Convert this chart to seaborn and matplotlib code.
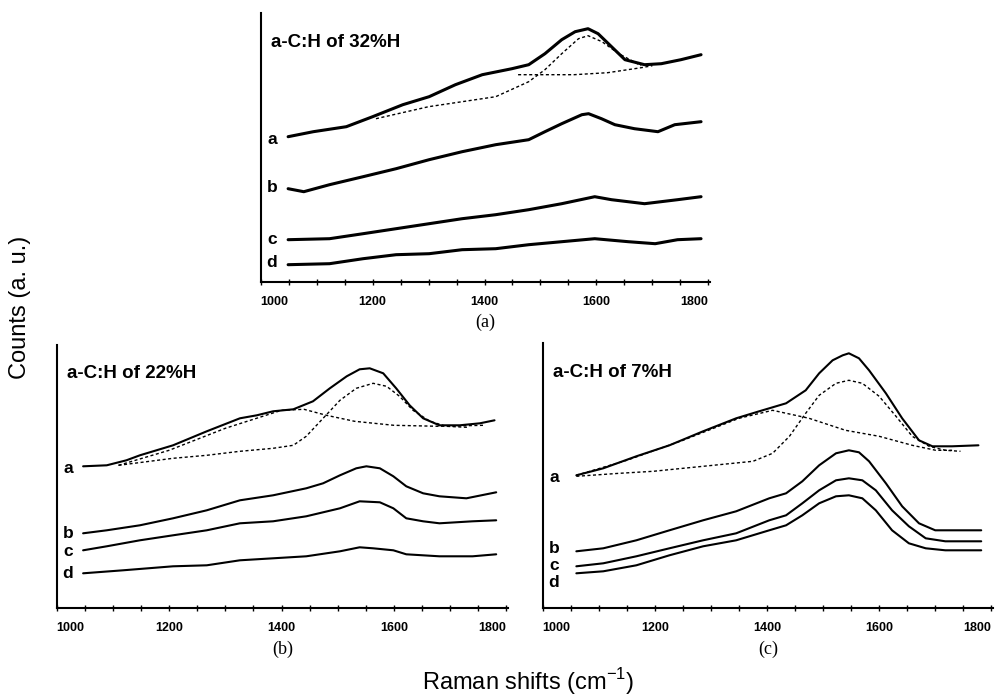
import numpy as np
import pandas as pd
import matplotlib
matplotlib.use("Agg")
import matplotlib.pyplot as plt
import seaborn as sns

sns.set_theme(style="white")
plt.rcParams["font.family"] = ["Liberation Sans", "DejaVu Sans"]
plt.rcParams["text.color"] = "black"
plt.rcParams["xtick.color"] = "black"
plt.rcParams["xtick.labelcolor"] = "black"

# ---- a-C:H of 32%H (panel a) ----
a32_x = [1049, 1094, 1153, 1200, 1254, 1301, 1348, 1396, 1449, 1479, 1508, 1538, 1562, 1585, 1603, 1627, 1651, 1686, 1716, 1751, 1787]
a32_y = [145, 150, 155, 165, 177, 185, 197, 207, 213, 217, 228, 242, 250, 253, 248, 235, 222, 217, 218, 222, 227]
b32_x = [1049, 1077, 1123, 1183, 1242, 1301, 1360, 1420, 1479, 1508, 1538, 1574, 1586, 1609, 1633, 1668, 1710, 1740, 1787]
b32_y = [93, 90, 97, 105, 113, 122, 130, 137, 142, 150, 158, 167, 168, 163, 157, 153, 150, 157, 160]
c32_x = [1049, 1123, 1183, 1242, 1301, 1360, 1420, 1479, 1538, 1597, 1627, 1686, 1745, 1787]
c32_y = [42, 43, 48, 53, 58, 63, 67, 72, 78, 85, 82, 78, 82, 85]
d32_x = [1049, 1123, 1183, 1242, 1301, 1360, 1420, 1479, 1538, 1597, 1657, 1705, 1745, 1787]
d32_y = [17, 18, 23, 27, 28, 32, 33, 37, 40, 43, 40, 38, 42, 43]
g32_x = [1206, 1300, 1420, 1479, 1508, 1538, 1568, 1585, 1610, 1640, 1680]
g32_y = [163, 175, 185, 200, 212, 228, 243, 246, 240, 228, 216]
dband32_x = [1460, 1500, 1560, 1620, 1680, 1700]
dband32_y = [207, 207, 207, 209, 214, 216]

# ---- a-C:H of 22%H (panel b) ----
a22_x = [1047, 1089, 1124, 1148, 1207, 1267, 1326, 1356, 1385, 1421, 1456, 1486, 1516, 1539, 1557, 1581, 1604, 1628, 1652, 1681, 1717, 1753, 1779]
a22_y = [142, 143, 148, 153, 163, 177, 190, 193, 197, 199, 207, 220, 232, 239, 240, 235, 220, 203, 190, 183, 183, 185, 188]
b22_x = [1047, 1089, 1148, 1207, 1267, 1326, 1385, 1444, 1474, 1504, 1533, 1551, 1575, 1599, 1622, 1652, 1681, 1729, 1782]
b22_y = [75, 78, 83, 90, 98, 108, 113, 120, 125, 133, 140, 142, 140, 132, 122, 115, 112, 110, 116]
c22_x = [1047, 1089, 1148, 1207, 1267, 1326, 1385, 1444, 1504, 1539, 1575, 1599, 1622, 1652, 1681, 1740, 1782]
c22_y = [58, 62, 68, 73, 78, 85, 87, 92, 100, 107, 106, 100, 90, 87, 85, 87, 88]
d22_x = [1047, 1118, 1207, 1267, 1326, 1385, 1444, 1504, 1539, 1563, 1599, 1622, 1681, 1740, 1782]
d22_y = [35, 38, 42, 43, 48, 50, 52, 57, 61, 60, 58, 54, 52, 52, 54]
g22_x = [1110, 1207, 1267, 1326, 1385, 1421, 1444, 1474, 1504, 1533, 1563, 1587, 1610, 1634, 1664, 1693, 1730]
g22_y = [143, 150, 153, 157, 160, 163, 172, 190, 208, 220, 225, 222, 212, 198, 187, 182, 181]
dband22_x = [1110, 1200, 1300, 1400, 1440, 1480, 1530, 1600, 1680, 1760]
dband22_y = [143, 158, 180, 198, 199, 193, 187, 183, 182, 183]

# ---- a-C:H of 7%H (panel c) ----
a7_x = [1060, 1108, 1167, 1226, 1286, 1345, 1386, 1434, 1469, 1493, 1517, 1535, 1546, 1564, 1582, 1612, 1641, 1671, 1695, 1730, 1777]
a7_y = [133, 140, 152, 163, 177, 190, 197, 205, 218, 235, 248, 253, 255, 250, 238, 215, 190, 168, 162, 162, 163]
b7_x = [1060, 1108, 1167, 1226, 1286, 1345, 1404, 1434, 1463, 1493, 1523, 1546, 1564, 1582, 1612, 1641, 1671, 1700, 1730, 1782]
b7_y = [57, 60, 68, 78, 88, 97, 110, 115, 127, 143, 155, 158, 156, 147, 125, 102, 85, 78, 78, 78]
c7_x = [1060, 1108, 1167, 1226, 1286, 1345, 1404, 1434, 1463, 1493, 1523, 1546, 1570, 1594, 1623, 1653, 1683, 1718, 1782]
c7_y = [42, 45, 52, 60, 68, 75, 88, 93, 105, 118, 128, 130, 128, 118, 98, 82, 70, 67, 67]
d7_x = [1060, 1108, 1167, 1226, 1286, 1345, 1404, 1434, 1463, 1493, 1523, 1546, 1570, 1594, 1623, 1653, 1683, 1718, 1782]
d7_y = [35, 37, 43, 53, 62, 68, 78, 83, 93, 105, 112, 113, 110, 98, 78, 65, 60, 58, 58]
g7_x = [1060, 1137, 1197, 1286, 1375, 1410, 1440, 1469, 1493, 1523, 1546, 1570, 1600, 1630, 1659, 1689, 1718, 1745]
g7_y = [132, 135, 137, 142, 147, 155, 172, 195, 213, 225, 228, 225, 212, 192, 172, 162, 158, 157]
dband7_x = [1060, 1150, 1250, 1350, 1410, 1475, 1540, 1600, 1659, 1701, 1730]
dband7_y = [133, 148, 168, 190, 198, 190, 178, 172, 163, 158, 158]

sample_labels = ["a", "b", "c", "d"]
tick_values = [1000, 1200, 1400, 1600, 1800]


def frame(xs, ys, name):
    return pd.DataFrame({"shift": xs, "counts": ys, "curve": name})


panels = [
    dict(title="a-C:H of 32%H", caption="(a)",
         rect=[260.7, 13.0, 710.0, 281.7],
         spectra=[(a32_x, a32_y), (b32_x, b32_y), (c32_x, c32_y), (d32_x, d32_y)],
         fits=[(g32_x, g32_y), (dband32_x, dband32_y)],
         label_y=[142, 94, 42, 19], lw=2.2),
    dict(title="a-C:H of 22%H", caption="(b)",
         rect=[56.7, 345.0, 508.0, 608.3],
         spectra=[(a22_x, a22_y), (b22_x, b22_y), (c22_x, c22_y), (d22_x, d22_y)],
         fits=[(g22_x, g22_y), (dband22_x, dband22_y)],
         label_y=[140, 75, 57, 35], lw=1.5),
    dict(title="a-C:H of 7%H", caption="(c)",
         rect=[542.7, 343.0, 993.0, 608.3],
         spectra=[(a7_x, a7_y), (b7_x, b7_y), (c7_x, c7_y), (d7_x, d7_y)],
         fits=[(g7_x, g7_y), (dband7_x, dband7_y)],
         label_y=[131, 60, 43, 26], lw=1.5),
]

W, H = 999, 699
fig = plt.figure(figsize=(W / 100, H / 100), dpi=100)
fig.patch.set_facecolor("white")

for p in panels:
    x0, y0, x1, y1 = p["rect"]
    ax = fig.add_axes([x0 / W, 1 - y1 / H, (x1 - x0) / W, (y1 - y0) / H])
    ax.set_facecolor("white")

    for (xs, ys), name in zip(p["spectra"], sample_labels):
        sns.lineplot(data=frame(xs, ys, name), x="shift", y="counts", ax=ax,
                     color="black", lw=p["lw"], legend=False, sort=False)
    for xs, ys in p["fits"]:
        sns.lineplot(data=frame(xs, ys, "fit"), x="shift", y="counts", ax=ax,
                     color="black", lw=1.0, legend=False, sort=False,
                     linestyle=(0, (2.2, 1.8)))

    for name, ly in zip(sample_labels, p["label_y"]):
        ax.text(1020, ly, name, fontsize=12.5, fontweight="bold",
                ha="center", va="center", color="black")
    ax.text(0.022, 0.89, p["title"], transform=ax.transAxes, fontsize=13.5,
            fontweight="bold", ha="left", va="center", color="black")

    ax.set_xlim(1000, 1803)
    ax.set_ylim(0, y1 - y0)
    ax.set_xticks(tick_values)
    ax.set_xticklabels([str(v) for v in tick_values], fontweight="bold",
                       color="black")
    ax.set_xticks(np.arange(1000, 1801, 50), minor=True)
    ax.set_yticks([])
    ax.tick_params(axis="x", which="both", direction="inout", length=4,
                   width=1.0, color="black", bottom=True, labelsize=9,
                   pad=8)
    labels = ax.get_xticklabels()
    labels[0].set_horizontalalignment("left")
    labels[-1].set_horizontalalignment("right")
    ax.set_xlabel("")
    ax.set_ylabel("")
    for s in ["top", "right"]:
        ax.spines[s].set_visible(False)
    for s in ["left", "bottom"]:
        ax.spines[s].set_color("black")
        ax.spines[s].set_linewidth(1.5)

    fig.text((x0 + x1) / 2 / W, 1 - (y1 + 41) / H, p["caption"],
             family=["Liberation Serif", "DejaVu Serif"], fontsize=13,
             ha="center", va="center", color="black")

fig.text(528 / W, 1 - 682 / H, "Raman shifts (cm$^{\\mathregular{-1}}$)",
         fontsize=17, ha="center", va="center", color="black")
fig.text(20 / W, 1 - 307 / H, "Counts (a. u.)", fontsize=17,
         rotation=90, ha="center", va="center", color="black")

fig.savefig("out.png", dpi=100, facecolor="white")
